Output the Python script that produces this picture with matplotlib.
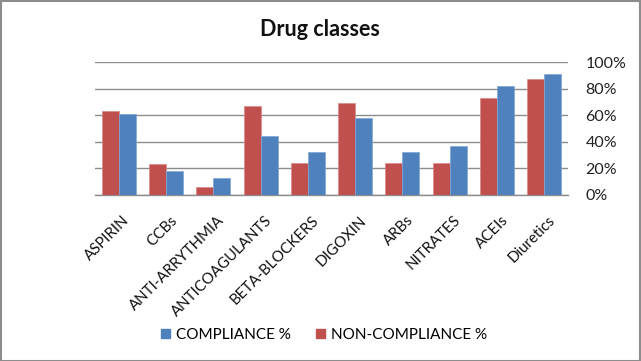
import matplotlib
matplotlib.use("Agg")
import matplotlib.pyplot as plt
import matplotlib.transforms as mtransforms
from matplotlib.patches import Rectangle, Patch
import numpy as np

categories = ["ASPIRIN", "CCBs", "ANTI-ARRYTHMIA", "ANTICOAGULANTS", "BETA-BLOCKERS",
              "DIGOXIN", "ARBs", "NITRATES", "ACEIs", "Diuretics"]
non_compliance = [63, 23, 6, 67, 24, 69, 24, 24, 73, 87]
compliance = [61, 18, 12.5, 44.5, 32, 58, 32, 36.5, 82, 91.5]
y_ticks = [0, 20, 40, 60, 80, 100]
title = "Drug classes"

BLUE = "#4F81BD"
RED = "#C0504D"
GRID = "#8C8C8C"

plt.rcParams['font.family'] = ['Lato', 'DejaVu Sans']

fig = plt.figure(figsize=(6.41, 3.61), dpi=100)
fig.patch.set_facecolor("white")
ax = fig.add_axes([95/641, 1-194.5/361, (568-95)/641, (194.5-62.3)/361])

x = np.arange(len(categories))
w = 0.36
ax.bar(x - w/2, non_compliance, width=w, color=RED, edgecolor="#D98A88", linewidth=0.5, zorder=3)
ax.bar(x + w/2, compliance, width=w, color=BLUE, edgecolor="#7FA6D6", linewidth=0.5, zorder=3)

ax.set_xlim(-0.5, len(categories) - 0.5)
ax.set_ylim(0, 100)
ax.set_yticks(y_ticks)
ax.set_yticklabels([f"{v}%" for v in y_ticks], fontsize=11.5, color="#222222")
ax.yaxis.tick_right()
ax.tick_params(axis='y', length=0, pad=12.5)
ax.grid(axis='y', color=GRID, linewidth=1.0, zorder=0)
ax.set_axisbelow(True)
for s in ["top", "left", "right"]:
    ax.spines[s].set_visible(False)
ax.spines["bottom"].set_color(GRID)
ax.spines["bottom"].set_linewidth(1.0)

ax.set_xticks(x)
ax.set_xticklabels(categories, rotation=45, ha='right', va='top',
                   rotation_mode='anchor', fontsize=10.8, color="#111111")
ax.tick_params(axis='x', length=0, pad=13.5)
offset = mtransforms.ScaledTranslation(4/100, 0, fig.dpi_scale_trans)
for lbl in ax.get_xticklabels():
    lbl.set_transform(lbl.get_transform() + offset)

fig.text(320/641, 1-30/361, title, ha='center', va='center', fontsize=15.5,
         fontweight='bold', color="#111111")

handles = [Patch(facecolor=BLUE, edgecolor=BLUE), Patch(facecolor=RED, edgecolor=RED)]
fig.legend(handles, ["COMPLIANCE %", "NON-COMPLIANCE %"], loc='center',
           bbox_to_anchor=(324/641, 1-335/361), ncol=2, frameon=False,
           fontsize=11, handlelength=0.6, handleheight=0.6, handletextpad=0.4,
           columnspacing=1.6)

fig.add_artist(Rectangle((0.5/641, 0.5/361), 1-1.5/641, 1-1.5/361,
                         transform=fig.transFigure, fill=False,
                         edgecolor="#8C8C8C", linewidth=1.5))

fig.savefig("out.png", dpi=100, facecolor="white")
